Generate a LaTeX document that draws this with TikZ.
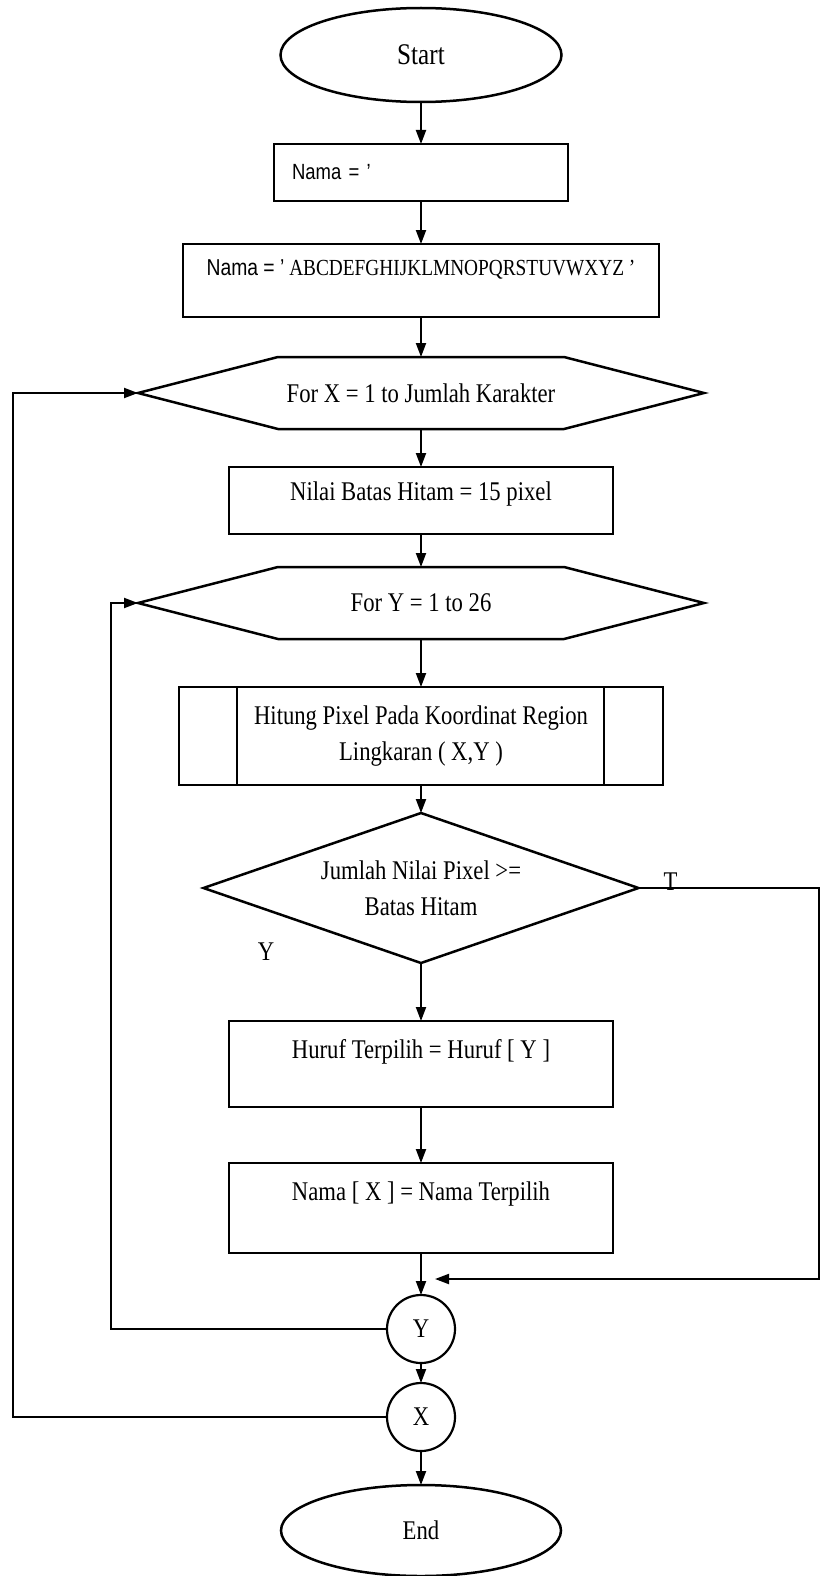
\documentclass[tikz,border=0pt]{standalone}
\usepackage{fontspec}
\setmainfont{Liberation Serif}[FakeStretch=0.84]
\setsansfont{Liberation Sans}[FakeStretch=0.84]
\usetikzlibrary{arrows.meta,positioning,shapes.geometric}

\begin{document}
\begin{tikzpicture}[
    x=1pt, y=1pt,
    every node/.style={font=\fontsize{27}{36}\selectfont, outer sep=0pt},
    shape line/.style={line width=2.5pt},
    terminal/.style={draw, shape line, ellipse, minimum width=281pt, minimum height=94pt},
    box/.style={draw, shape line, rectangle, minimum width=384pt, text height=19pt, text depth=6pt},
    upbox/.style={box, text depth=30pt},
    loopbox/.style={rectangle, minimum width=566pt, minimum height=72pt, inner sep=0pt},
    subbox/.style={draw, shape line, rectangle, minimum width=484pt, minimum height=98pt, align=center},
    check/.style={draw, shape line, diamond, aspect=2.9, minimum width=435pt, minimum height=150pt, inner sep=0pt, align=center},
    conn/.style={draw, line width=2.2pt, circle, minimum size=68pt, inner sep=0pt},
    arrow/.style={-{Triangle[length=14pt,width=10pt]}, line width=2pt}
]
\useasboundingbox (0,0) rectangle (822,-1576);
\node[terminal, font=\fontsize{30}{36}\selectfont] (start) at (421,-55) {Start};
\node[box, below=42pt of start, minimum width=294pt, minimum height=57pt, inner xsep=18pt, text width=258pt, align=left, font=\sffamily\fontsize{22}{26}\selectfont] (kosong) {Nama = '};
\node[upbox, below=43pt of kosong, minimum width=476pt, minimum height=73pt, font=\fontsize{23}{28}\selectfont] (abjad) {{\sffamily Nama = '} ABCDEFGHIJKLMNOPQRSTUVWXYZ '};
\node[loopbox, below=40pt of abjad] (forx) {For X = 1 to Jumlah Karakter};
\node[box, below=38pt of forx, minimum height=67pt, text depth=20pt] (batas) {Nilai Batas Hitam = 15 pixel};
\node[loopbox, below=33pt of batas] (fory) {For Y = 1 to 26};
\node[subbox, below=48pt of fory] (hitung) {Hitung Pixel Pada Koordinat Region\\Lingkaran ( X,Y )};
\node[check, below=28pt of hitung] (cek) {Jumlah Nilai Pixel >=\\Batas Hitam};
\node[upbox, below=58pt of cek, minimum height=86pt] (huruf) {Huruf Terpilih = Huruf [ Y ]};
\node[upbox, below=56pt of huruf, minimum height=90pt, text depth=34pt] (simpan) {Nama [ X ] = Nama Terpilih};
\node[conn, below=42pt of simpan] (nexty) {Y};
\node[conn, below=20pt of nexty] (nextx) {X};
\node[terminal, below=34pt of nextx, minimum width=280pt, minimum height=91pt] (end) {End};

% hexagon outlines of the two loops
\foreach \n in {forx,fory}
  \draw[shape line] (\n.west) -- ([xshift=140pt]\n.north west) -- ([xshift=-140pt]\n.north east) -- (\n.east) -- ([xshift=-140pt]\n.south east) -- ([xshift=140pt]\n.south west) -- cycle;
% predefined process bars
\draw[shape line] ([xshift=58pt]hitung.north west) -- ([xshift=58pt]hitung.south west);
\draw[shape line] ([xshift=-59pt]hitung.north east) -- ([xshift=-59pt]hitung.south east);

\node[inner sep=0pt, anchor=base] (tlabel) at ([xshift=32pt,yshift=-2pt]cek.east) {T};
\node[inner sep=0pt, anchor=base] (ylabel) at ([xshift=-155pt,yshift=3pt]cek.south) {Y};

\coordinate (xrail) at (13,0);
\coordinate (yrail) at (111,0);
\coordinate (trail) at (819,0);
\coordinate (join) at ([xshift=14pt,yshift=-26pt]simpan.south);

\draw[arrow] (start) -- (kosong);
\draw[arrow] (kosong) -- (abjad);
\draw[arrow] (abjad) -- (forx);
\draw[arrow] (forx) -- (batas);
\draw[arrow] (batas) -- (fory);
\draw[arrow] (fory) -- (hitung);
\draw[arrow] (hitung) -- (cek);
\draw[arrow] (cek) -- (huruf);
\draw[arrow] (huruf) -- (simpan);
\draw[arrow] (simpan) -- (nexty);
\draw[arrow] (nexty) -- (nextx);
\draw[arrow] (nextx) -- (end);
\draw[arrow] (nexty.west) -- (nexty.west -| yrail) |- (fory.west);
\draw[arrow] (nextx.west) -- (nextx.west -| xrail) |- (forx.west);
\draw[arrow] (cek.east) -- (cek.east -| trail) |- (join);
\end{tikzpicture}
\end{document}
